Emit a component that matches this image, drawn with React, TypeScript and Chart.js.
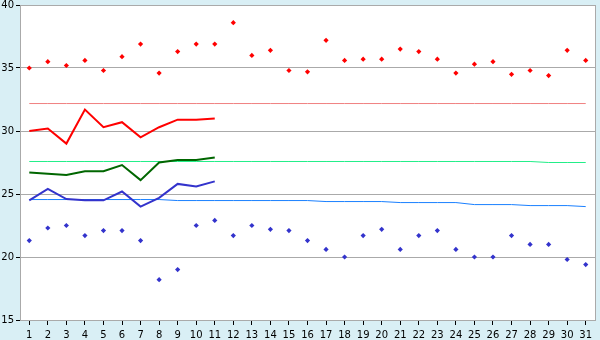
import React, { useEffect, useRef } from 'react';
import { Chart, registerables } from 'chart.js';

Chart.register(...registerables);

const days = ['1', '2', '3', '4', '5', '6', '7', '8', '9', '10', '11', '12', '13', '14', '15', '16', '17', '18', '19', '20', '21', '22', '23', '24', '25', '26', '27', '28', '29', '30', '31'];

const yTicks = [15, 20, 25, 30, 35, 40];

const dailyMax = [35.0, 35.5, 35.2, 35.6, 34.8, 35.9, 36.9, 34.6, 36.3, 36.9, 36.9, 38.6, 36.0, 36.4, 34.8, 34.7, 37.2, 35.6, 35.7, 35.7, 36.5, 36.3, 35.7, 34.6, 35.3, 35.5, 34.5, 34.8, 34.4, 36.4, 35.6];
const dailyMin = [21.3, 22.3, 22.5, 21.7, 22.1, 22.1, 21.3, 18.2, 19.0, 22.5, 22.9, 21.7, 22.5, 22.2, 22.1, 21.3, 20.6, 20.0, 21.7, 22.2, 20.6, 21.7, 22.1, 20.6, 20.0, 20.0, 21.7, 21.0, 21.0, 19.8, 19.4];

const avgMax = [30.0, 30.2, 29.0, 31.7, 30.3, 30.7, 29.5, 30.3, 30.9, 30.9, 31.0];
const avgMean = [26.7, 26.6, 26.5, 26.8, 26.8, 27.3, 26.1, 27.5, 27.7, 27.7, 27.9];
const avgMin = [24.5, 25.4, 24.6, 24.5, 24.5, 25.2, 24.0, 24.7, 25.8, 25.6, 26.0];

const normalMax = [32.18, 32.18, 32.18, 32.18, 32.18, 32.18, 32.18, 32.18, 32.18, 32.18, 32.18, 32.18, 32.18, 32.18, 32.18, 32.18, 32.18, 32.18, 32.18, 32.18, 32.18, 32.18, 32.18, 32.18, 32.18, 32.18, 32.18, 32.18, 32.18, 32.18, 32.18];
const normalMean = [27.58, 27.58, 27.58, 27.58, 27.58, 27.58, 27.58, 27.58, 27.58, 27.58, 27.58, 27.58, 27.58, 27.58, 27.58, 27.58, 27.58, 27.58, 27.58, 27.58, 27.58, 27.58, 27.58, 27.58, 27.58, 27.58, 27.58, 27.58, 27.5, 27.5, 27.5];
const normalMin = [24.56, 24.56, 24.56, 24.56, 24.56, 24.56, 24.56, 24.56, 24.48, 24.48, 24.48, 24.48, 24.48, 24.48, 24.48, 24.48, 24.4, 24.4, 24.4, 24.4, 24.32, 24.32, 24.32, 24.32, 24.16, 24.16, 24.16, 24.08, 24.08, 24.08, 24.0];

const bgPlugin = {
  id: 'bgPlugin',
  beforeDraw(chart: any) {
    const { ctx, chartArea: a } = chart;
    ctx.save();
    ctx.fillStyle = '#d9eff5';
    ctx.fillRect(0, 0, chart.width, chart.height);
    ctx.fillStyle = '#ffffff';
    ctx.fillRect(a.left, a.top, a.right - a.left, a.bottom - a.top);
    ctx.restore();
  },
  afterDraw(chart: any) {
    const { ctx, chartArea: a } = chart;
    ctx.save();
    ctx.strokeStyle = '#aaaaaa';
    ctx.lineWidth = 1;
    ctx.beginPath();
    ctx.moveTo(Math.round(a.right) + 0.5, a.top);
    ctx.lineTo(Math.round(a.right) + 0.5, a.bottom);
    ctx.stroke();
    ctx.restore();
  },
};

export default function App() {
  const ref = useRef<HTMLCanvasElement>(null);

  useEffect(() => {
    document.body.style.margin = '0';
    const font = { family: '"DejaVu Sans", Verdana, sans-serif', size: 10 };
    const lineDs = (data: number[], color: string, width: number) => ({
      type: 'line' as const,
      data,
      borderColor: color,
      backgroundColor: color,
      borderWidth: width,
      pointRadius: 0,
      tension: 0,
      fill: false,
    });
    const pointDs = (data: number[], color: string) => ({
      type: 'line' as const,
      data,
      showLine: false,
      pointStyle: 'rectRot' as const,
      pointRadius: 2.6,
      pointBorderWidth: 0,
      pointBackgroundColor: color,
      pointBorderColor: color,
      borderColor: color,
      backgroundColor: color,
    });
    const chart = new Chart(ref.current!, {
      type: 'line',
      data: {
        labels: days,
        datasets: [
          pointDs(dailyMax, '#ff0000'),
          pointDs(dailyMin, '#3333cc'),
          lineDs(avgMax, '#ff0000', 2),
          lineDs(avgMean, '#006600', 2),
          lineDs(avgMin, '#3333cc', 2),
          lineDs(normalMax, '#f08080', 1),
          lineDs(normalMean, '#22ee88', 1),
          lineDs(normalMin, '#1a80ff', 1),
        ] as any,
      },
      options: {
        animation: false,
        responsive: false,
        devicePixelRatio: 1,
        layout: { padding: { top: 5, right: 5, left: 0, bottom: 0 } },
        plugins: { legend: { display: false }, tooltip: { enabled: false } },
        scales: {
          x: {
            type: 'category',
            offset: true,
            grid: { drawOnChartArea: false, drawTicks: true, tickLength: 5, tickColor: '#000000', offset: false },
            border: { color: '#aaaaaa' },
            ticks: { color: '#000000', font, padding: 4, maxRotation: 0, autoSkip: false },
            afterFit(s: any) { s.height = 20; s.paddingLeft = 0; s.paddingRight = 0; },
          },
          y: {
            min: yTicks[0],
            max: yTicks[yTicks.length - 1],
            afterBuildTicks(s: any) { s.ticks = yTicks.map((v) => ({ value: v })); },
            grid: { color: '#aaaaaa', tickLength: 4, tickColor: '#000000' },
            border: { color: '#aaaaaa' },
            ticks: { color: '#000000', font, padding: 2 },
            afterFit(s: any) { s.width = 20; s.paddingTop = 0; s.paddingBottom = 0; },
          },
        },
      },
      plugins: [bgPlugin],
    });
    return () => chart.destroy();
  }, []);

  return (
    <div style={{ position: 'absolute', left: 0, top: 0, width: 600, height: 340 }}>
      <canvas ref={ref} width={600} height={340} />
    </div>
  );
}
